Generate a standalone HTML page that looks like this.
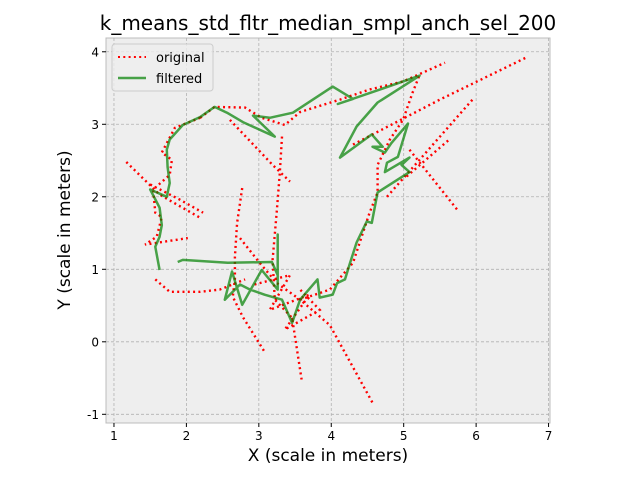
<!DOCTYPE html>
<html><head><meta charset="utf-8"><style>
body{margin:0;background:#fff;font-family:"Liberation Sans","DejaVu Sans",sans-serif}
svg text{font-family:"DejaVu Sans","Liberation Sans",sans-serif}
</style></head><body>
<svg id="chart" width="640" height="480" xmlns="http://www.w3.org/2000/svg">
<rect width="640" height="480" fill="#fff"/>
<text x="328" y="30" text-anchor="middle" font-size="20" fill="#000">k_means_std_fltr_median_smpl_anch_sel_200</text>
<rect x="106" y="38" width="444" height="385" fill="#eeeeee" stroke="#bcbcbc" stroke-width="1"/>
<g id="grid"></g><g id="ticks"></g>
<g id="series"></g>
<text x="328" y="461" text-anchor="middle" font-size="17">X (scale in meters)</text>
<text x="70" y="230" text-anchor="middle" font-size="17" transform="rotate(-90 70 230)">Y (scale in meters)</text>
<g>
<rect x="112" y="44" width="101" height="47" rx="3" fill="#eeeeee" fill-opacity="0.8" stroke="#cccccc"/>
<line x1="118" y1="57" x2="146" y2="57" stroke="red" stroke-width="2" stroke-dasharray="2,3.3"/>
<text x="156" y="62" font-size="13">original</text>
<line x1="118" y1="78" x2="146" y2="78" stroke="green" stroke-opacity="0.7" stroke-width="2.4"/>
<text x="156" y="83" font-size="13">filtered</text>
</g>
</svg>
<script>
const xTicks=[1,2,3,4,5,6,7];
const yTicks=[-1,0,1,2,3,4];
const filteredX=[1.63,1.57,1.63,1.66,1.63,1.50,1.73,1.77,1.74,1.73,1.77,1.95,2.19,2.39,2.56,2.78,3.22,2.92,3.15,3.47,4.02,4.30,4.09,4.53,5.22,4.64,4.35,4.12,4.56,4.71,4.57,4.74,4.83,5.06,4.92,4.77,4.74,5.08,4.97,5.08,4.64,4.56,4.49,4.35,4.26,4.19,4.08,4.02,3.84,3.81,3.57,3.46,3.32,3.08,2.88,2.74,2.53,2.63,2.77,3.04,3.26,3.26,3.26,3.18,2.57,1.95,1.88];
const filteredY=[0.99,1.31,1.45,1.61,1.85,2.10,2.00,2.19,2.41,2.65,2.79,2.99,3.10,3.24,3.16,3.03,2.83,3.12,3.09,3.16,3.52,3.35,3.28,3.43,3.67,3.30,2.97,2.54,2.86,2.69,2.69,2.61,2.74,3.01,2.55,2.47,2.34,2.54,2.44,2.34,2.06,1.64,1.66,1.37,1.09,0.86,0.81,0.65,0.61,0.86,0.58,0.26,0.58,0.65,0.72,0.79,0.58,0.97,0.51,0.99,0.72,1.48,0.92,1.10,1.09,1.13,1.10];
const originalX=[1.17,1.63,2.19,null,1.50,1.91,2.23,null,2.19,1.84,1.66,1.80,1.77,1.54,1.57,1.66,1.59,1.43,2.02,null,1.57,1.77,2.19,2.46,2.81,null,2.19,2.39,2.81,3.04,3.36,3.57,4.12,4.53,4.99,5.57,null,2.60,3.19,3.43,null,3.32,3.29,3.25,3.19,3.22,3.46,3.59,null,2.77,2.70,2.67,2.67,2.64,2.78,3.08,null,2.74,3.01,3.25,3.57,3.98,4.57,null,3.57,3.98,4.30,4.53,4.64,4.64,4.81,4.99,5.12,5.22,null,4.30,5.50,6.71,null,4.77,5.95,null,5.04,5.63,null,5.08,5.74,null,2.94,3.43,3.15,3.70,3.36,3.84,3.57];
const originalY=[2.48,2.03,1.71,null,2.17,1.96,1.78,null,3.09,2.95,2.61,2.51,2.30,2.10,1.78,1.72,1.45,1.34,1.43,null,0.86,0.69,0.69,0.72,0.86,null,3.09,3.24,3.23,3.09,2.99,3.17,3.34,3.48,3.59,3.85,null,3.06,2.44,2.21,null,2.83,2.33,1.82,1.13,0.58,0.33,-0.52,null,2.12,1.64,1.17,0.86,0.62,0.34,-0.14,null,1.43,1.09,0.81,0.58,0.23,-0.84,null,0.58,0.72,1.09,1.78,2.06,2.44,2.79,3.06,3.43,3.68,null,2.72,3.34,3.93,null,2.00,3.34,null,2.28,2.79,null,2.65,1.82,null,0.79,0.92,0.44,0.65,0.17,0.44,0.72];
const X0=0.89,X1=7.02,Y0=-1.12,Y1=4.19,L=106,R=550,T=38,B=423;
const sx=v=>L+(v-X0)/(X1-X0)*(R-L);
const sy=v=>B-(v-Y0)/(Y1-Y0)*(B-T);
const NS="http://www.w3.org/2000/svg";
function mk(tag,at,parent){const e=document.createElementNS(NS,tag);for(const k in at)e.setAttribute(k,at[k]);parent.appendChild(e);return e;}
const grid=document.getElementById('grid'),ticks=document.getElementById('ticks'),series=document.getElementById('series');
xTicks.forEach(t=>{const x=sx(t);
 const g=mk('line',{x1:x,x2:x,y1:T,y2:B,stroke:'#b2b2b2','stroke-dasharray':'3,2','stroke-width':0.8},grid);
 
 
 mk('line',{x1:x,x2:x,y1:B,y2:B+4,stroke:'#000'},ticks);
 const tx=mk('text',{x:x,y:B+17,'text-anchor':'middle','font-size':12},ticks);tx.textContent=t;
 
 });
yTicks.forEach(t=>{const y=sy(t);
 const g=mk('line',{x1:L,x2:R,y1:y,y2:y,stroke:'#b2b2b2','stroke-dasharray':'3,2','stroke-width':0.8},grid);
 
 
 mk('line',{x1:L-4,x2:L,y1:y,y2:y,stroke:'#000'},ticks);
 const tx=mk('text',{x:L-7,y:y+4.5,'text-anchor':'end','font-size':12},ticks);tx.textContent=t;
 
 });
function pathFrom(xs,ys){let d='',pen=false;for(let i=0;i<xs.length;i++){if(xs[i]===null){pen=false;continue;}d+=(pen?'L':'M')+sx(xs[i]).toFixed(1)+' '+sy(ys[i]).toFixed(1);pen=true;}return d;}
const po=mk('path',{d:pathFrom(originalX,originalY),fill:'none',stroke:'red','stroke-width':2.4,'stroke-dasharray':'2,3.3'},series);


const pf=mk('path',{d:pathFrom(filteredX,filteredY),fill:'none',stroke:'green','stroke-opacity':0.7,'stroke-width':2.5,'stroke-linejoin':'round'},series);


</script>
</body></html>
